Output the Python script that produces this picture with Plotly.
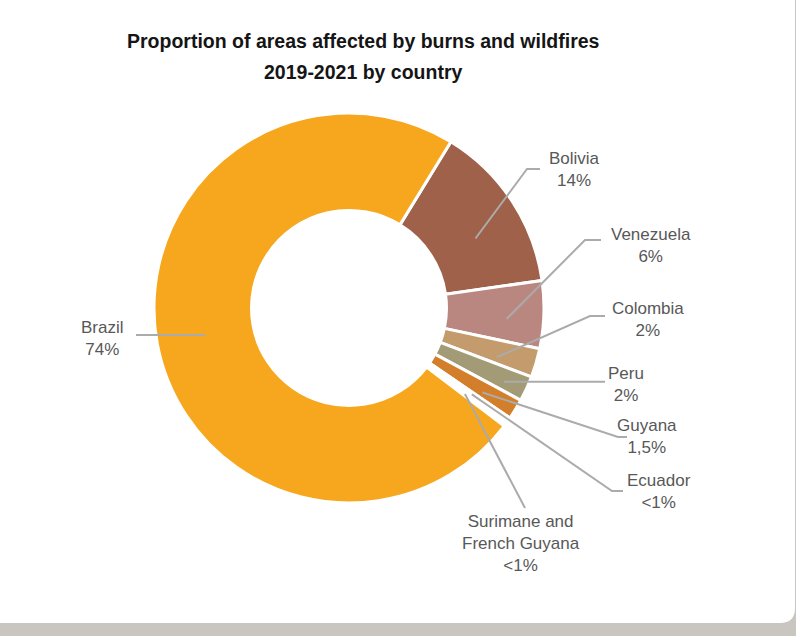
import math
import plotly.graph_objects as go

# ---- data ----
countries = ["Bolivia", "Venezuela", "Colombia", "Peru", "Guyana", "Ecuador",
             "Surimane and French Guyana", "Brazil"]
values = [14.0, 5.6, 2.4, 2.1, 1.7, 0.4, 0.4, 73.4]
label_texts = ["Bolivia<br>14%", "Venezuela<br>6%", "Colombia<br>2%", "Peru<br>2%",
               "Guyana<br>1,5%", "Ecuador<br>&lt;1%",
               "Surimane and<br>French Guyana<br>&lt;1%", "Brazil<br>74%"]
colors = ["#A0614A", "#B98780", "#C49B6C", "#A29B76", "#D27E2B", "#FFFFFF",
          "#FFFFFF", "#F6A71D"]
title_lines = ["Proportion of areas affected by burns and wildfires", "2019-2021 by country"]

# ---- layout geometry (pixels) ----
W, H = 796, 636
ROT = 31.5
dom_x = [154 / W, 544 / W]
dom_y = [1 - 503 / H, 1 - 113 / H]

# label placement (style): center px, leader radius fraction, angle offset, elbow px, end px
label_pos = [(574, 169), (651, 245), (648, 319), (626, 384), (647, 436), (659, 491),
             (521, 543), (102, 338)]
lead_rf = [0.74, 0.81, 0.80, 0.88, 0.81, 0.77, 0.74, 0.75]
lead_off = [4.5, 2.0, 2.0, 1.0, 1.0, 0.0, 0.0, 0.0]
lead_elbow = [(527, 169), (585, 240), (590, 316), None, (618, 437), (612, 491), None, None]
lead_end = [(540, 169), (601, 240), (605, 316), (605, None), (627, 437), (623, 491),
            (525, 508), (136, None)]

fig = go.Figure(go.Pie(
    labels=countries, values=values, sort=False, direction="clockwise",
    rotation=ROT, hole=0.5, textinfo="none", hoverinfo="label+percent",
    marker=dict(colors=colors, line=dict(color="white", width=3)),
    domain=dict(x=dom_x, y=dom_y), showlegend=False,
))

cx = (dom_x[0] + dom_x[1]) / 2 * W
cy = (1 - (dom_y[0] + dom_y[1]) / 2) * H
R = min((dom_x[1] - dom_x[0]) * W, (dom_y[1] - dom_y[0]) * H) / 2

def px2paper(x, y):
    return x / W, 1 - y / H

shapes = []
# card background with rounded bottom-right corner
x1 = 795 / W
yb = 1 - 623 / H
rx, ry = 15 / W, 15 / H
shapes.append(dict(type="path", xref="paper", yref="paper", layer="below",
                   path=f"M 0,1 L {x1},1 L {x1},{yb + ry} Q {x1},{yb} {x1 - rx},{yb} L 0,{yb} Z",
                   fillcolor="white", line=dict(width=0)))

total = sum(values)
cum = 0.0
annotations = []
for i, v in enumerate(values):
    a0 = ROT + cum / total * 360
    cum += v
    a1 = ROT + cum / total * 360
    am = math.radians((a0 + a1) / 2 + lead_off[i])
    sx = cx + lead_rf[i] * R * math.sin(am)
    sy = cy - lead_rf[i] * R * math.cos(am)
    pts = [(sx, sy)]
    if lead_elbow[i] is not None:
        pts.append(lead_elbow[i])
    ex, ey = lead_end[i]
    pts.append((ex, sy if ey is None else ey))
    path = "M " + " L ".join(f"{px2paper(x, y)[0]},{px2paper(x, y)[1]}" for x, y in pts)
    shapes.append(dict(type="path", xref="paper", yref="paper", layer="above",
                       path=path, line=dict(color="#ABABAB", width=2)))
    lx, ly = px2paper(*label_pos[i])
    annotations.append(dict(x=lx, y=ly, xref="paper", yref="paper", text=label_texts[i],
                            showarrow=False, xanchor="center", yanchor="middle",
                            font=dict(family="Liberation Sans, Arial",
                                      size=17, color="#585858")))

for line, py in zip(title_lines, [41, 72]):
    tx, ty = px2paper(363, py)
    annotations.append(dict(x=tx, y=ty, xref="paper", yref="paper", text="<b>" + line + "</b>",
                            showarrow=False, xanchor="center", yanchor="middle",
                            font=dict(family="Liberation Sans, Arial",
                                      size=19.5, color="#151515")))

fig.update_layout(width=W, height=H, autosize=False,
                  margin=dict(l=0, r=0, t=0, b=0),
                  paper_bgcolor="#C9C5C0", plot_bgcolor="white",
                  shapes=shapes, annotations=annotations)

fig.write_html("out.html")
